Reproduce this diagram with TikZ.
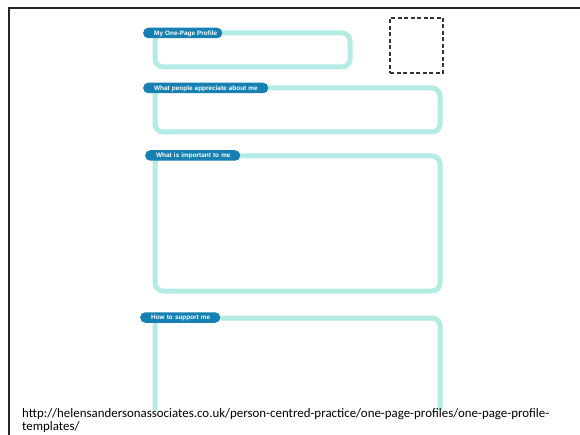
\documentclass[tikz,border=0pt]{standalone}
\usepackage{fontspec}
\setmainfont{Carlito}
\newfontfamily\tabfont{Liberation Sans}
\begin{document}
\begin{tikzpicture}[x=1pt,y=-1pt,
  outline/.style={draw=aqualine, line width=5pt, rounded corners=8pt, inner sep=0pt},
  tabbox/.style={fill=tabblue, rounded corners=5pt, inner sep=0pt, anchor=west,
    minimum height=10.5pt, text=white, font=\tabfont\bfseries\fontsize{6.4}{7}\selectfont,
    align=left, text depth=0pt},
  photo/.style={draw=black!80, dashed, line width=1.6pt, dash pattern=on 4pt off 2.5pt, inner sep=0pt, minimum width=53pt, minimum height=55pt},
  frameline/.style={draw=black!85, line width=2pt},
  urltext/.style={anchor=base west, inner sep=0pt, font=\fontsize{12.9}{14}\selectfont, text=black}
]
\definecolor{aqualine}{RGB}{178,236,226}
\definecolor{tabblue}{RGB}{22,128,178}
\useasboundingbox (0,0) rectangle (580,435);
\fill[white] (0,0) rectangle (580,435);
% frame
\coordinate (fbl) at (9,436);
\coordinate (ftl) at (9,8);
\coordinate (ftr) at (581,8);
\draw[frameline] (fbl) -- (ftl) -- (ftr);
% boxes
\node[outline, minimum width=195pt, minimum height=34pt] (b1) at (252.5,50) {};
\node[outline, minimum width=285pt, minimum height=44pt] (b2) at (297.5,110) {};
\node[outline, minimum width=285pt, minimum height=135pt] (b3) at (297.5,223.5) {};
\coordinate (b4bl) at (155,410);
\coordinate (b4tl) at (155,318);
\coordinate (b4tr) at (440,318);
\coordinate (b4br) at (440,410);
\draw[draw=aqualine, line width=5pt, rounded corners=8pt] (b4bl) -- (b4tl) -- (b4tr) -- (b4br);
% photo placeholder
\node[photo] (ph) at (416.5,45.5) {};
% tabs
\node[tabbox, minimum width=79pt, text width=71pt] (t1) at (143,33) {\hspace*{7pt}My One-Page Profile};
\node[tabbox, minimum width=125pt, text width=117pt] (t2) at (143,88) {\hspace*{7pt}What people appreciate about me};
\node[tabbox, minimum width=95pt, text width=87pt] (t3) at (145,155.5) {\hspace*{7pt}What is important to me};
\node[tabbox, minimum width=80pt, text width=72pt] (t4) at (140,317.5) {\hspace*{7pt}How to support me};
% url
\node[urltext] (url1) at (22,417) {http://helensandersonassociates.co.uk/person-centred-practice/one-page-profiles/one-page-profile-};
\node[urltext] (url2) at (22,430.5) {templates/};
\end{tikzpicture}
\end{document}
